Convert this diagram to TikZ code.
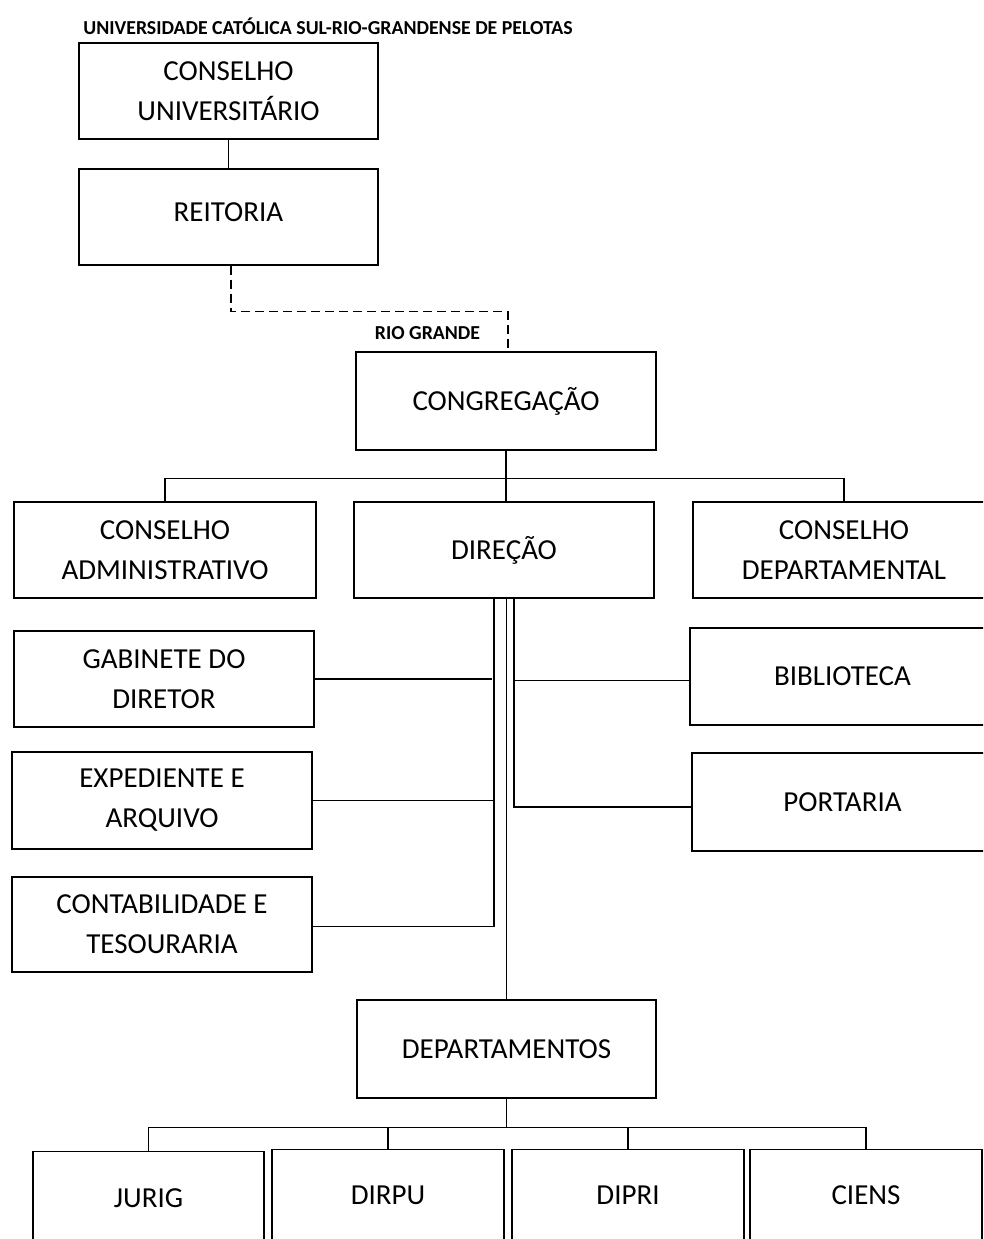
\documentclass[tikz,border=0pt]{standalone}
\usepackage{fontspec}
\setmainfont{Carlito}
\usetikzlibrary{calc}
\begin{document}
\begin{tikzpicture}[x=1pt,y=-1pt,
  box/.style={draw, line width=1.4pt, inner sep=0pt, align=center,
              font=\fontsize{29}{40}\selectfont},
  conn/.style={line width=1.4pt},
  dashconn/.style={line width=1.4pt, dash pattern=on 9pt off 5pt},
  smalllabel/.style={inner sep=0pt, font=\bfseries\fontsize{19.8}{22}\selectfont}]
\useasboundingbox (0,0) rectangle (983,1239);
\clip (0,0) rectangle (983,1239);
\fill[white] (0,0) rectangle (983,1239);

\node[smalllabel] (title) at (328,26) {UNIVERSIDADE CATÓLICA SUL-RIO-GRANDENSE DE PELOTAS};

\node[box, minimum width=299pt, minimum height=96pt] (cu) at (228.5,91) {CONSELHO\\UNIVERSITÁRIO};
\node[box, minimum width=299pt, minimum height=96pt] (reit) at (228.5,217) {\raisebox{9pt}{REITORIA}};
\node[smalllabel] (rg) at (427.5,333) {RIO GRANDE};
\node[box, minimum width=300pt, minimum height=98pt] (cong) at (506,401) {CONGREGAÇÃO};

\node[box, minimum width=302pt, minimum height=96pt] (ca) at (165,550) {CONSELHO\\ADMINISTRATIVO};
\node[box, minimum width=300pt, minimum height=96pt] (dir) at (504,550) {DIREÇÃO};
\node[box, minimum width=302pt, minimum height=96pt] (cd) at (844,550) {CONSELHO\\DEPARTAMENTAL};

\node[box, minimum width=300pt, minimum height=96pt] (gab) at (164,679) {GABINETE DO\\DIRETOR};
\node[box, minimum width=300pt, minimum height=97pt] (exp) at (162,800.5) {EXPEDIENTE E\\ARQUIVO};
\node[box, minimum width=300pt, minimum height=95pt] (cont) at (162,924.5) {CONTABILIDADE E\\TESOURARIA};

\node[box, minimum width=305pt, minimum height=97pt] (bib) at (842.5,676.5) {BIBLIOTECA};
\node[box, minimum width=301pt, minimum height=98pt] (port) at (842.5,802) {PORTARIA};

\node[box, minimum width=299pt, minimum height=98pt] (dept) at (506.5,1049) {DEPARTAMENTOS};

\node[box, anchor=north, minimum width=231pt, minimum height=120pt] (jurig) at (148.5,1151) {\raisebox{28pt}{JURIG}};
\node[box, anchor=north, minimum width=232pt, minimum height=120pt] (dirpu) at (388,1149) {\raisebox{30pt}{DIRPU}};
\node[box, anchor=north, minimum width=232pt, minimum height=120pt] (dipri) at (628,1149) {\raisebox{30pt}{DIPRI}};
\node[box, anchor=north, minimum width=232pt, minimum height=120pt] (ciens) at (866,1149) {\raisebox{30pt}{CIENS}};

% top
\draw[conn] (cu.south) -- (reit.north);
\draw[dashconn] ([xshift=2.5pt]reit.south) -- ++(0,46) -| ([xshift=2pt]cong.north);

% congregação tree
\draw[conn] (cong.south) -- ++(0,28) coordinate (j1);
\draw[conn] (ca.north) |- (j1) -| (cd.north);
\draw[conn] (j1) -- (j1 |- dir.north);

% direção connectors
\coordinate (dl) at ([xshift=-10pt]dir.south);
\coordinate (dr) at ([xshift=10pt]dir.south);
\draw[conn] (dl) |- ([yshift=-2pt]cont.east);
\draw[conn] (gab.east) -- ++(177,0);
\draw[conn] (exp.east) -- (exp.east -| dl);
\draw[conn] (dr) |- ([yshift=-5pt]port.west);
\draw[conn] ([yshift=-4pt]bib.west) -- ([yshift=-4pt]bib.west -| dr);
\draw[conn] (dir.south -| dept.north) -- (dept.north);

% departamentos tree
\draw[conn] (dept.south) -- ++(0,29) coordinate (j2);
\draw[conn] (jurig.north) |- (j2) -| (ciens.north);
\draw[conn] (dirpu.north) -- (dirpu.north |- j2);
\draw[conn] (dipri.north) -- (dipri.north |- j2);
\end{tikzpicture}
\end{document}
